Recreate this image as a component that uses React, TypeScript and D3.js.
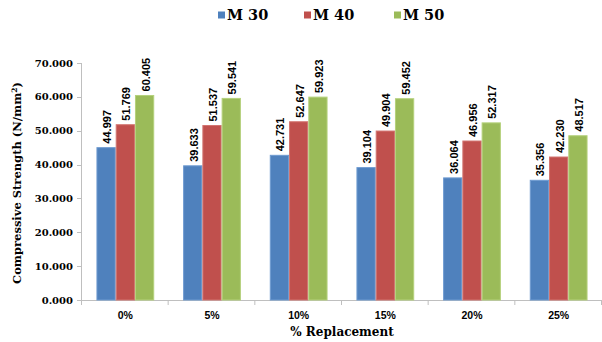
import React from "react";
import * as d3 from "d3";

const categories = ["0%", "5%", "10%", "15%", "20%", "25%"];
const seriesNames = ["M 30", "M 40", "M 50"];
const m30 = [44.997, 39.633, 42.731, 39.104, 36.064, 35.356];
const m40 = [51.769, 51.537, 52.647, 49.904, 46.956, 42.23];
const m50 = [60.405, 59.541, 59.923, 59.452, 52.317, 48.517];
const yTicks = [0, 10, 20, 30, 40, 50, 60, 70];

const colors = ["#4F81BD", "#C0504D", "#9BBB59"];
const strokes = ["#6f9bd1", "#d27470", "#b5d17c"];

const W = 602;
const H = 342;
const plot = { left: 82, right: 602, top: 63, bottom: 300 };

export default function App() {
  const series = [m30, m40, m50];
  const x0 = d3
    .scaleBand<string>()
    .domain(categories)
    .range([plot.left, plot.right])
    .paddingInner(0.3333)
    .paddingOuter(0.1667);
  const x1 = d3
    .scaleBand<number>()
    .domain([0, 1, 2])
    .range([0, x0.bandwidth()])
    .padding(0);
  const y = d3.scaleLinear().domain([0, 70]).range([plot.bottom, plot.top]);

  const step = (plot.right - plot.left) / categories.length;
  const serif = "'DejaVu Serif', 'Liberation Serif', serif";
  const sans = "'Liberation Sans', Arial, sans-serif";

  return (
    <svg width={W} height={H} style={{ display: "block", position: "absolute", left: 0, top: 0, background: "#fff" }}>
      {/* legend */}
      {seriesNames.map((name, i) => {
        const lx = [218, 304, 394][i];
        return (
          <g key={name}>
            <rect x={lx} y={11.5} width={7} height={7} fill={colors[i]} />
            <text x={lx + 9} y={20} fontFamily={serif} fontWeight="bold" fontSize={14.5} fill="#000">
              {name}
            </text>
          </g>
        );
      })}

      {/* y axis */}
      <line x1={plot.left - 0.5} x2={plot.left - 0.5} y1={plot.top} y2={plot.bottom} stroke="#bfbfbf" />
      {yTicks.map((t) => (
        <g key={t}>
          <line x1={plot.left - 5} x2={plot.left} y1={Math.round(y(t)) + 0.5} y2={Math.round(y(t)) + 0.5} stroke="#bfbfbf" />
          <text
            x={plot.left - 9}
            y={y(t)}
            dy="0.35em"
            textAnchor="end"
            fontFamily={serif}
            fontWeight="bold"
            fontSize={10}
            fill="#000"
          >
            {d3.format(".3f")(t)}
          </text>
        </g>
      ))}

      {/* x axis */}
      <line x1={plot.left} x2={plot.right} y1={plot.bottom + 0.5} y2={plot.bottom + 0.5} stroke="#bfbfbf" />
      {d3.range(categories.length + 1).map((i) => (
        <line
          key={i}
          x1={plot.left + i * step - 0.5}
          x2={plot.left + i * step - 0.5}
          y1={plot.bottom}
          y2={plot.bottom + 5}
          stroke="#bfbfbf"
        />
      ))}
      {categories.map((c) => (
        <text
          key={c}
          x={(x0(c) as number) + x0.bandwidth() / 2}
          y={319}
          textAnchor="middle"
          fontFamily={sans}
          fontWeight="bold"
          fontSize={10.5}
          fill="#000"
        >
          {c}
        </text>
      ))}

      {/* bars and value labels */}
      {categories.map((c, ci) => (
        <g key={c}>
          {series.map((s, si) => {
            const bx = (x0(c) as number) + (x1(si) as number);
            const bw = x1.bandwidth();
            const v = s[ci];
            const top = y(v);
            return (
              <g key={si}>
                <rect
                  x={bx + 0.5}
                  y={top}
                  width={bw - 1}
                  height={plot.bottom - top}
                  fill={colors[si]}
                  stroke={strokes[si]}
                  strokeWidth={1}
                />
                <text
                  transform={`translate(${bx + bw / 2 + 5},${top - 4}) rotate(-90)`}
                  fontFamily={sans}
                  fontWeight="bold"
                  fontSize={11}
                  fill="#000"
                >
                  {d3.format(".3f")(v)}
                </text>
              </g>
            );
          })}
        </g>
      ))}

      {/* axis titles */}
      <text
        x={342}
        y={336}
        textAnchor="middle"
        fontFamily={serif}
        fontWeight="bold"
        fontSize={12}
        fill="#000"
      >
        % Replacement
      </text>
      <text
        transform={`translate(21,183) rotate(-90)`}
        textAnchor="middle"
        fontFamily={serif}
        fontWeight="bold"
        fontSize={11.5}
        fill="#000"
      >
        Compressive Strength (N/mm<tspan dy={-4} fontSize={7.5}>2</tspan>
        <tspan dy={4}>)</tspan>
      </text>
    </svg>
  );
}
